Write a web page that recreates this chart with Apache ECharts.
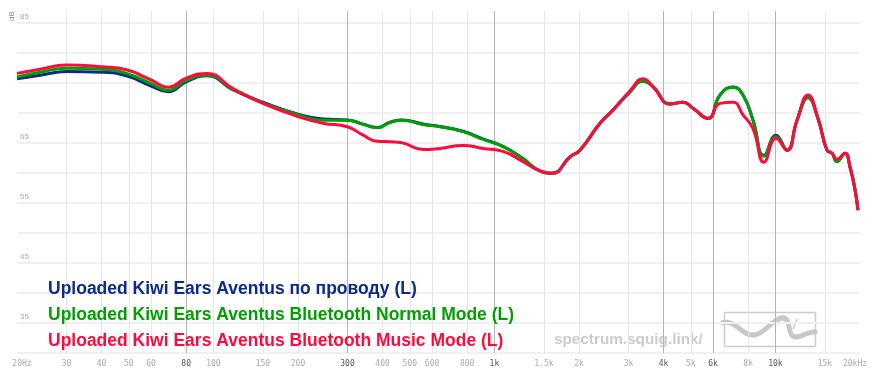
<!DOCTYPE html>
<html>
<head>
<meta charset="utf-8">
<script src="https://cdn.jsdelivr.net/npm/echarts@6/dist/echarts.min.js"></script>
<style>html,body{margin:0;padding:0;background:#fff}#c{width:877px;height:379px}</style>
</head>
<body>
<div id="c"></div>
<script>
// ---- data ----
const freqs = [20,24.2,30,40,49,60,69,80,95,117,150,200,245,300,341,382,425,469,557,640,773,911,1073,1264,1429,1603,1858,2016,2376,2642,3038,3379,3668,4216,4690,5090,5756,6352,7066,7666,8323,9109,10049,11000,11940,13063,14175,15260,15900,16565,17690,18430,19200,19680];
const wiredDb = [75.7,76.3,76.9,76.8,76.2,74.5,73.55,75.2,76.2,73.9,71.8,69.8,69.0,68.85,68.15,67.6,68.45,68.85,68.15,67.75,66.95,65.7,64.45,62.4,60.5,59.95,62.7,63.8,68.3,70.5,73.5,75.3,74.4,71.5,71.8,70.8,69.1,73.0,74.35,73.0,68.8,62.9,66.3,63.8,68.8,72.6,69.1,63.8,63.3,61.9,63.3,61.0,57.2,53.8];
const btNormalDb = [76.0,76.8,77.45,77.3,76.6,74.9,73.8,75.4,76.3,73.95,71.7,69.7,68.8,68.8,68.1,67.55,68.4,68.8,68.1,67.7,66.9,65.6,64.4,62.4,60.5,59.95,62.7,63.8,68.3,70.5,73.5,75.3,74.4,71.5,71.8,70.8,69.1,73.0,74.3,73.0,68.8,62.8,66.05,63.8,68.8,72.6,69.1,63.8,63.3,61.9,63.3,61.0,57.2,53.8];
const btMusicDb = [76.6,77.3,78.0,77.7,77.2,75.5,74.3,75.8,76.6,74.1,71.6,69.4,68.3,67.7,66.3,65.3,65.2,65.05,63.9,64.1,64.6,64.1,63.6,61.9,60.5,59.95,62.7,63.8,68.3,70.5,73.7,75.7,74.4,71.5,71.8,70.8,69.1,71.6,71.8,69.7,67.4,61.8,65.8,63.8,68.8,73.0,69.1,63.8,63.3,62.3,63.3,61.0,57.2,53.8];
const seriesNames = ['Uploaded Kiwi Ears Aventus по проводу (L)','Uploaded Kiwi Ears Aventus Bluetooth Normal Mode (L)','Uploaded Kiwi Ears Aventus Bluetooth Music Mode (L)'];
const minorTickFreqs = [30,40,50,60,100,150,200,400,500,600,800,1500,2000,3000,5000,8000,15000];
const minorLabelFreqs = [20,30,40,50,60,100,150,200,400,500,600,800,1500,2000,3000,5000,8000,15000,20000];
const minorLabels = ['20Hz','30','40','50','60','100','150','200','400','500','600','800','1.5k','2k','3k','5k','8k','15k','20kHz'];
const majorFreqs = [80,300,1000,4000,6000,10000];
const majorLabels = ['80','300','1k','4k','6k','10k'];
const yGridValues = [30,35,40,45,50,55,60,65,70,75,80,85];
const yLabelValues = [35,45,55,65,75,85];

// ---- build ----
const L = Math.log10;
const colors = ['#0b2a8c','#00a000','#ff0a3c'];
function pts(db){ return freqs.map((f,i)=>[L(f), db[i]]); }
function lookup(v, fs, labs){
  for (let i=0;i<fs.length;i++) if (Math.abs(L(fs[i])-v) < 1e-6) return labs[i];
  return '';
}
const xMin = L(20), xMax = L(20000);
const chart = echarts.init(document.getElementById('c'), null, {renderer:'canvas'});
const monoFont = '"DejaVu Sans Mono", monospace';
const sans = '"Liberation Sans", Arial, sans-serif';
const logoStroke = {fill:'none',stroke:'#c8c8c8',lineWidth:5,lineCap:'round'};
chart.setOption({
  animation:false,
  grid:{left:17,right:17,top:11,bottom:26},
  xAxis:[
    {type:'value',min:xMin,max:xMax,position:'bottom',
     axisLine:{show:false},
     axisTick:{show:false,customValues:minorTickFreqs.map(L)},
     splitLine:{show:true,lineStyle:{color:'#e6e6e6',width:1}},
     axisLabel:{customValues:minorLabelFreqs.map(L),margin:7,
       formatter:v=>{const t=lookup(v,minorLabelFreqs,minorLabels);
         if(t==='20Hz')return '{f|'+t+'}'; if(t==='20kHz')return '{l|'+t+'}'; return '{m|'+t+'}';},
       rich:{m:{color:'#aaaaaa',fontSize:8,fontFamily:monoFont},
             f:{color:'#aaaaaa',fontSize:8,fontFamily:monoFont,padding:[0,0,0,10]},
             l:{color:'#aaaaaa',fontSize:8,fontFamily:monoFont,padding:[0,10,0,0]}}}},
    {type:'value',min:xMin,max:xMax,position:'bottom',
     axisLine:{show:false},
     axisTick:{show:false,customValues:majorFreqs.map(L)},
     splitLine:{show:true,lineStyle:{color:'#b4b4b4',width:1}},
     axisLabel:{customValues:majorFreqs.map(L),margin:7,color:'#555',fontSize:8,fontFamily:monoFont,
       formatter:v=>lookup(v,majorFreqs,majorLabels)}}
  ],
  yAxis:{type:'value',min:30,max:87,
    axisLine:{show:false},
    axisTick:{show:false,customValues:yGridValues},
    splitLine:{show:true,lineStyle:{color:'#f0f0f0',width:2}},
    axisLabel:{customValues:yLabelValues,inside:true,margin:3,color:'#aaaaaa',fontSize:8,
      fontFamily:sans,verticalAlign:'bottom',padding:[0,0,2,0]}},
  legend:{orient:'vertical',left:38,top:275,icon:'none',itemWidth:0,itemHeight:17,itemGap:8,
    selectedMode:false,
    textStyle:{fontSize:17.5,fontWeight:'bold',fontFamily:sans},
    data:seriesNames.map((n,i)=>({name:n,textStyle:{color:colors[i]}}))},
  graphic:[
    {type:'text',x:8,y:21,rotation:Math.PI/2,style:{text:'dB',fill:'#888',fontSize:8,
      fontFamily:sans,textAlign:'left',textVerticalAlign:'top'}},
    {type:'text',x:554,y:332,style:{text:'spectrum.squig.link/',fill:'#cccccc',fontSize:15.3,fontWeight:'bold',
      fontFamily:sans}},
    {type:'rect',shape:{x:724.5,y:312.5,width:91,height:34,r:1},style:{fill:'none',stroke:'#cccccc',lineWidth:1.5}},
    {type:'bezierCurve',shape:{x1:723,y1:322.5,cpx1:737,cpy1:320,cpx2:741,cpy2:336,x2:754,y2:335},style:logoStroke},
    {type:'bezierCurve',shape:{x1:754,y1:335,cpx1:766,cpy1:334,cpx2:774,cpy2:316,x2:784,y2:318},style:logoStroke},
    {type:'bezierCurve',shape:{x1:784,y1:318,cpx1:792,cpy1:320,cpx2:786,cpy2:338,x2:797,y2:337},style:logoStroke},
    {type:'bezierCurve',shape:{x1:797,y1:337,cpx1:804,cpy1:336,cpx2:809,cpy2:331,x2:815,y2:332},style:logoStroke},
    {type:'line',shape:{x1:797,y1:319,x2:793,y2:329},style:{stroke:'#c8c8c8',lineWidth:1.5}}
  ],
  series:[wiredDb,btNormalDb,btMusicDb].map((d,i)=>({
    name:seriesNames[i],type:'line',xAxisIndex:0,data:pts(d),showSymbol:false,
    smooth:0.5,color:colors[i],lineStyle:{width:3,color:colors[i]},z:2+i
  }))
});
</script>
</body>
</html>
